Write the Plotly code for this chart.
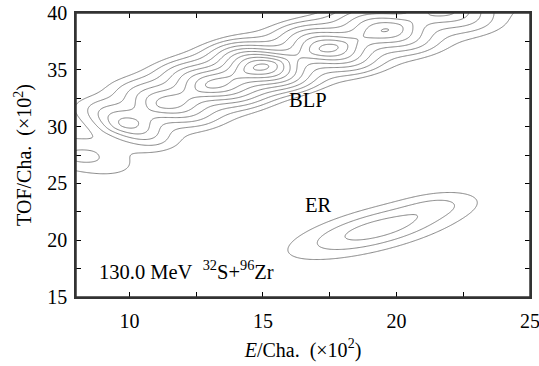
import numpy as np
import plotly.graph_objects as go

# BLP ridge: local maxima (E, TOF in 10^2 channels)
blp_e = [8.3, 9.9, 11.4, 13.15, 15.0, 17.45, 19.6, 21.8, 24.0]
blp_t = [27.4, 30.2, 32.0, 33.7, 35.3, 36.9, 38.5, 40.3, 42.8]
# number of contour levels enclosed at each maximum
blp_height = [2.3, 5.4, 6.6, 8.4, 10.3, 8.4, 7.05, 5.5, 3.0]
blp_angle = [50, 35, 40, 42, 37, 35, 37, 38, 38]
blp_len = [1.0, 0.75, 0.95, 1.0, 1.0, 1.0, 1.0, 1.1, 1.2]

# ER blob
er_e = [19.3, 21.6]
er_t = [21.0, 23.2]
er_amp = [3.55, 0.9]
er_angle = [36, 30]

level_start, level_end, level_step = 1, 12, 1

E = np.linspace(8, 25, 261)
T = np.linspace(15, 40, 281)
EE, TT = np.meshgrid(E, T)

BP, C0 = 2.95, 0.3


def ridge_piece(x, y, e0, t0, ang, sa):
    a = np.deg2rad(ang)
    de, dt = x - e0, y - t0
    u = de * np.cos(a) + dt * np.sin(a)
    v = -de * np.sin(a) + dt * np.cos(a)
    prof = 1 - (np.sqrt(v ** 2 + C0 ** 2) - C0) / BP
    return np.clip(prof, 0, None) * np.exp(-(u ** 2) / (2 * sa ** 2))


# weights so that the summed field reaches the read heights at the maxima
n = len(blp_e)
M = np.array([[ridge_piece(blp_e[i], blp_t[i], blp_e[j], blp_t[j], blp_angle[j], blp_len[j])
               for j in range(n)] for i in range(n)])
w = np.linalg.solve(M, np.array(blp_height))

Z = np.zeros_like(EE)
for j in range(n):
    Z += w[j] * ridge_piece(EE, TT, blp_e[j], blp_t[j], blp_angle[j], blp_len[j])


def gblob(e0, t0, amp, ang, sa, sp):
    a = np.deg2rad(ang)
    de, dt = EE - e0, TT - t0
    u = de * np.cos(a) + dt * np.sin(a)
    v = -de * np.sin(a) + dt * np.cos(a)
    return amp * np.exp(-(u ** 2) / (2 * sa ** 2) - (v ** 2) / (2 * sp ** 2))


Z += gblob(er_e[0], er_t[0], er_amp[0], er_angle[0], 2.5, 1.05)
Z += gblob(er_e[1], er_t[1], er_amp[1], er_angle[1], 1.0, 0.7)

gray = "#808080"
fig = go.Figure(go.Contour(
    x=E, y=T, z=Z,
    contours=dict(start=level_start, end=level_end, size=level_step, coloring="lines"),
    colorscale=[[0, gray], [1, gray]],
    line=dict(width=1, smoothing=0.6),
    showscale=False, hoverinfo="skip",
))

font = dict(family="Liberation Serif", size=20, color="black")
afont = dict(family="Liberation Serif", size=20.5, color="black")
fig.add_annotation(x=16.67, y=32.3, text="BLP", showarrow=False, font=afont)
fig.add_annotation(x=17.08, y=23.1, text="ER", showarrow=False, font=afont)
fig.add_annotation(x=8.8, y=17.4, xanchor="left",
                   text="130.0 MeV\u00a0 <sup>32</sup>S+<sup>96</sup>Zr", showarrow=False, font=afont)

# plot frame
fig.add_shape(type="rect", xref="paper", yref="paper", x0=0, y0=0, x1=1, y1=1,
              line=dict(color="#333333", width=1.5), fillcolor="rgba(0,0,0,0)", layer="above")

xt = [10, 12.5, 15, 17.5, 20, 22.5, 25]
yt = [15, 17.5, 20, 22.5, 25, 27.5, 30, 32.5, 35, 37.5, 40]
common = dict(ticks="inside", ticklen=5, tickcolor="black", tickwidth=1, showline=True,
              linecolor="#333333", linewidth=1.5, mirror="ticks", showgrid=False, zeroline=False,
              tickfont=font, automargin=False, ticklabeloverflow="allow")
fig.update_xaxes(range=[8, 25], tickvals=xt, ticktext=[("%g" % v if v % 5 == 0 else "") for v in xt],
                 ticklabelstandoff=5,
                 title=dict(text="<i>E</i>/Cha.\u00a0 (×10<sup>2</sup>)", font=font, standoff=12), **common)
fig.update_yaxes(range=[15, 40], tickvals=yt, ticktext=[("%g" % v if v % 5 == 0 else "") for v in yt],
                 ticklabelstandoff=3,
                 title=dict(text="TOF/Cha.\u00a0 (×10<sup>2</sup>)", font=font, standoff=10), **common)
fig.update_layout(width=539, height=366, margin=dict(l=76, r=9, t=13, b=69),
                  plot_bgcolor="white", paper_bgcolor="white", showlegend=False)
# remove the default 8px page margin so the figure fills the window like the reference
fig.write_html("out.html", config={"displayModeBar": False},
               post_script="document.body.style.margin='0px';")
